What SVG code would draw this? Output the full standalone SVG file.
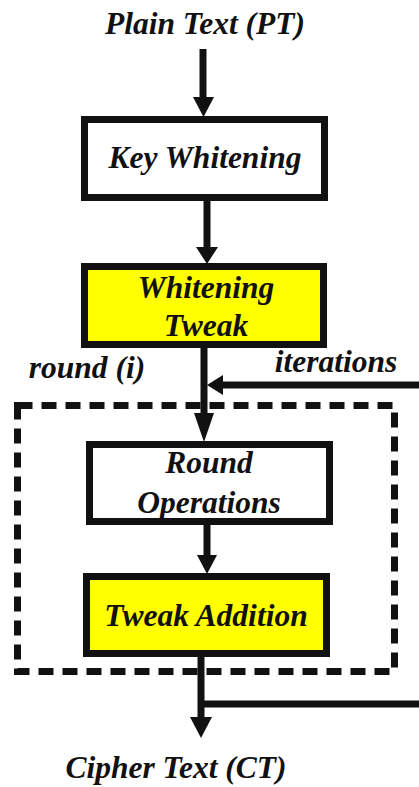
<svg xmlns="http://www.w3.org/2000/svg" width="419" height="787" viewBox="0 0 419 787">
<style>
text{font-family:"Liberation Serif","Times New Roman",serif;font-weight:bold;font-style:italic;font-size:31.5px;fill:#111;text-anchor:middle}
.box{stroke:#111;stroke-width:7}
.w{fill:#fff}
.y{fill:#ffff00}
.ln{stroke:#111;stroke-width:7;fill:none}
.ah{fill:#111}
</style>
<rect width="419" height="787" fill="#fff"/>
<g id="plain-text"><text x="205" y="34">Plain Text (PT)</text></g>
<g id="key-whitening"><rect class="box w" x="84.5" y="119.5" width="240" height="78"/><text x="205" y="168">Key Whitening</text></g>
<g id="whitening-tweak"><rect class="box y" x="84.5" y="266.5" width="239" height="78"/><text x="206" y="298">Whitening</text><text x="206" y="336">Tweak</text></g>
<g id="round-loop"><rect x="17.5" y="405.5" width="377" height="266" fill="none" stroke="#111" stroke-width="7" stroke-dasharray="15 9"/></g>
<g id="round-operations"><rect class="box w" x="89.5" y="444.5" width="240" height="77"/><text x="209" y="473">Round</text><text x="209" y="513">Operations</text></g>
<g id="tweak-addition"><rect class="box y" x="86.5" y="576.5" width="240" height="77"/><text x="206" y="626">Tweak Addition</text></g>
<g id="cipher-text"><text x="176" y="778">Cipher Text (CT)</text></g>
<g id="labels"><text x="87" y="378">round (i)</text><text x="336" y="372">iterations</text></g>
<g id="connectors">
<line class="ln" x1="203" y1="49" x2="203" y2="99"/><polygon class="ah" points="193,97 214,97 203.5,117"/>
<line class="ln" x1="207" y1="201" x2="207" y2="249"/><polygon class="ah" points="196,247 218,247 207,264"/>
<line class="ln" x1="204" y1="348" x2="204" y2="415"/><polygon class="ah" points="194,413 214,413 204,442"/>
<line class="ln" x1="419" y1="385" x2="220" y2="385"/><polygon class="ah" points="223,375 223,395 207,385"/>
<line class="ln" x1="207" y1="525" x2="207" y2="557"/><polygon class="ah" points="197,555 217,555 207,574"/>
<line class="ln" x1="201" y1="657" x2="201" y2="719"/><polygon class="ah" points="190,717 212,717 201,738"/>
<line class="ln" x1="201" y1="704" x2="419" y2="704"/>
</g>
</svg>
